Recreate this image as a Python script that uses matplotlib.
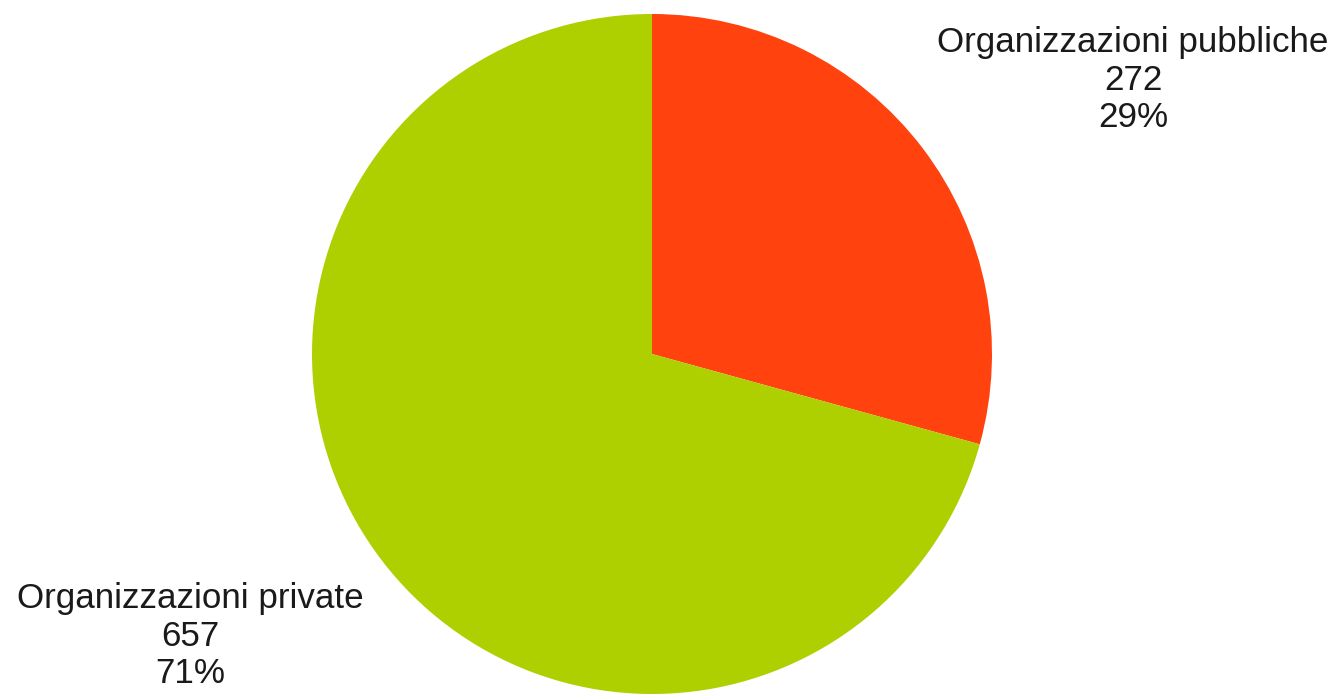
import matplotlib
matplotlib.use("Agg")
import matplotlib.pyplot as plt

labels = ["Organizzazioni pubbliche", "Organizzazioni private"]
counts = [272, 657]
colors = ["#ff420e", "#aecf00"]

W, H = 1340, 694
fig = plt.figure(figsize=(W / 100, H / 100), dpi=100)
ax = fig.add_axes([0, 0, 1, 1])

ax.pie(counts, colors=colors, startangle=90, counterclock=False,
       center=(652, 340), radius=340, frame=True,
       wedgeprops=dict(linewidth=0))
ax.set_xlim(0, W)
ax.set_ylim(0, H)
ax.set_aspect("equal")
ax.axis("off")

total = sum(counts)
label_pos = [(1133, 614), (190, 58)]
for lab, n, (x, y) in zip(labels, counts, label_pos):
    pct = round(100 * n / total)
    ax.text(x, y, f"{lab}\n{n}\n{pct}%", ha="center", va="center",
            fontsize=25.2, family="Liberation Sans", color="#1a1a1a",
            linespacing=1.17)

fig.savefig("out.png", dpi=100)
